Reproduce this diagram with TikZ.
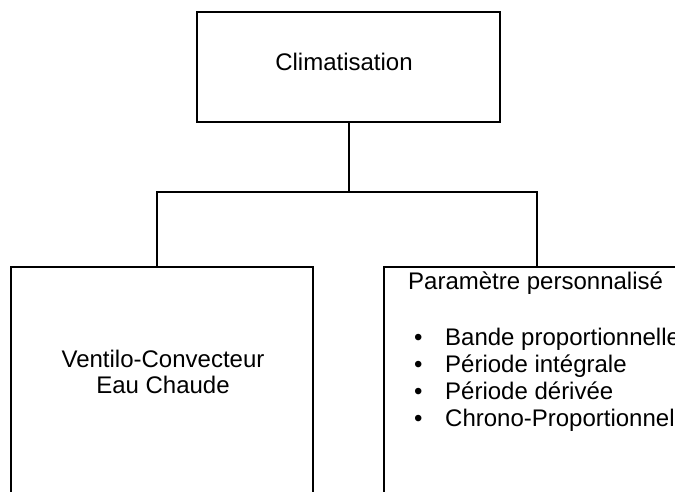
\documentclass[tikz,border=0pt]{standalone}
\usepackage{fontspec}
\setmainfont{Liberation Sans}
\begin{document}
\begin{tikzpicture}[x=1pt,y=-1pt,
  box/.style={draw, line width=2pt, inner sep=0pt, rectangle},
  lbl/.style={font=\fontsize{24}{27}\selectfont, inner sep=0pt, anchor=base},
  lblw/.style={font=\fontsize{24}{27}\selectfont, inner sep=0pt, anchor=base west},
  wire/.style={line width=2pt}]
\useasboundingbox (0,0) rectangle (675,492);
\clip (0,0) rectangle (675,492);
% boxes
\node[box, minimum width=303pt, minimum height=110pt] (top) at (348.5,67) {};
\node[box, minimum width=302pt, minimum height=260pt] (left) at (162,397) {};
\node[box, minimum width=340pt, minimum height=260pt] (right) at (554,397) {};
% texts
\node[lbl] (t0) at (344,71) {Climatisation};
\node[lbl] (v1) at (163,367) {Ventilo-Convecteur};
\node[lbl] (v2) at (163,393) {Eau Chaude};
\node[lblw] (p0) at (408,289) {Paramètre personnalisé};
\node[lblw] (p1) at (414,345) {\makebox[31pt][l]{•}Bande proportionnelle};
\node[lblw] (p2) at (414,372) {\makebox[31pt][l]{•}Période intégrale};
\node[lblw] (p3) at (414,399) {\makebox[31pt][l]{•}Période dérivée};
\node[lblw] (p4) at (414,426) {\makebox[31pt][l]{•}Chrono-Proportionnel};
% connectors
\coordinate (busL) at (157,192);
\coordinate (busR) at (537,192);
\coordinate (busM) at (top.south |- busL);
\draw[wire] (top.south) -- (busM);
\draw[wire] (busL |- left.north) -- (busL) -- (busR) -- (busR |- right.north);
\end{tikzpicture}
\end{document}
